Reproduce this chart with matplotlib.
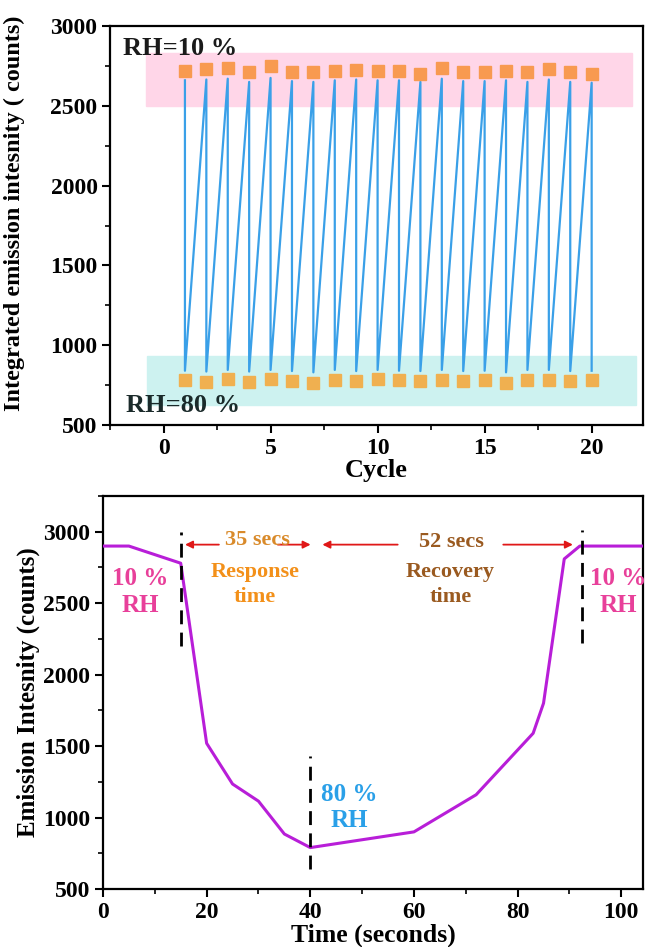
import numpy as np
import matplotlib
matplotlib.use("Agg")
import matplotlib.pyplot as plt
from matplotlib.ticker import MultipleLocator

plt.rcParams['font.family'] = ['Liberation Serif', 'DejaVu Serif']
plt.rcParams['font.weight'] = 'bold'

# --- datos ciclo (panel superior) ---
ciclos = np.arange(1, 21)
em_rh10 = [2720, 2730, 2740, 2710, 2750, 2715, 2710, 2720, 2725, 2720,
           2720, 2700, 2735, 2715, 2715, 2720, 2710, 2730, 2710, 2700]
em_rh80 = [780, 770, 790, 770, 790, 775, 765, 785, 775, 790,
           780, 775, 785, 775, 780, 765, 785, 785, 775, 780]
linea_alta = [2660, 2665, 2670, 2650, 2675, 2655, 2650, 2660, 2665, 2660,
              2660, 2650, 2670, 2655, 2655, 2660, 2650, 2665, 2650, 2645]
linea_baja = [840, 835, 845, 835, 845, 838, 830, 845, 838, 845,
              840, 838, 845, 838, 840, 830, 845, 845, 838, 840]

# --- datos respuesta temporal (panel inferior) ---
tiempo = [0, 5, 15, 20, 25, 30, 35, 40, 60, 72, 83, 85, 89, 92, 105]
intensidad = [2900, 2900, 2780, 1520, 1235, 1115, 885, 790, 900, 1160,
              1590, 1800, 2810, 2900, 2900]

fig = plt.figure(figsize=(6.46, 9.47), dpi=100)
ax1 = fig.add_axes([0.1703, 0.5512, 0.8251, 0.4213])
ax2 = fig.add_axes([0.1594, 0.0612, 0.8360, 0.4150])

for ax in (ax1, ax2):
    for s in ax.spines.values():
        s.set_linewidth(1.6)
    ax.tick_params(which='major', direction='out', length=6, width=1.5,
                   labelsize=17, pad=3)
    ax.tick_params(which='minor', direction='out', length=3.5, width=1.2)

# panel superior
ax1.axhspan(2500, 2830, xmin=(-0.84 + 2.5) / 24.9, xmax=(21.9 + 2.5) / 24.9,
            color='#ffd6e8', zorder=0)
ax1.axhspan(625, 932, xmin=(-0.75 + 2.5) / 24.9, xmax=(22.05 + 2.5) / 24.9,
            color='#cdf2f0', zorder=0)

zx = np.repeat(ciclos, 2)
zy = np.column_stack([linea_alta, linea_baja]).ravel()
ax1.plot(zx, zy, color='#3aa0e8', lw=1.6, zorder=2)
ax1.plot(ciclos, em_rh10, 's', color='#f89a50', ms=8.5, zorder=3)
ax1.plot(ciclos, em_rh80, 's', color='#f0b050', ms=8.5, zorder=3)

ax1.set_xlim(-2.5, 22.4)
ax1.set_ylim(500, 3000)
ax1.xaxis.set_major_locator(MultipleLocator(5))
ax1.xaxis.set_minor_locator(MultipleLocator(2.5))
ax1.yaxis.set_major_locator(MultipleLocator(500))
ax1.yaxis.set_minor_locator(MultipleLocator(250))
ax1.text(-1.9, 2862, 'RH=10 %', fontsize=19, fontweight='bold', va='center',
         color='#1a1a1a')
ax1.text(-1.77, 625, 'RH=80 %', fontsize=19, fontweight='bold', va='center',
         color='#1a2a2a')
ax1.set_xlabel('Cycle', fontsize=19, fontweight='bold', labelpad=0)
ax1.set_ylabel('Integrated emission intesnity ( counts)', fontsize=17.5,
               fontweight='bold', labelpad=2)
ax1.yaxis.set_label_coords(-0.16, 0.53)

# panel inferior
ax2.plot(tiempo, intensidad, color='#b81ed8', lw=2.2, zorder=3)
ax2.set_xlim(0, 104.2)
ax2.set_ylim(500, 3250)
ax2.xaxis.set_major_locator(MultipleLocator(20))
ax2.xaxis.set_minor_locator(MultipleLocator(10))
ax2.yaxis.set_major_locator(MultipleLocator(500))
ax2.yaxis.set_minor_locator(MultipleLocator(250))

for xv, y0, y1 in [(15, 2200, 3000), (40, 640, 1430), (92.4, 2220, 3010)]:
    ax2.plot([xv, xv], [y0, y1], color='black', lw=2, ls=(0, (5, 3)), zorder=4)

flecha = dict(arrowstyle='-|>', color='#e01818', lw=1.3, mutation_scale=11)
y_fl = 2910
for x0, x1 in [(22.9, 15.3), (33.2, 40.6), (57.4, 41.8), (76.7, 91.2)]:
    ax2.annotate('', xy=(x1, y_fl), xytext=(x0, y_fl), arrowprops=flecha)

ax2.text(29.8, 2945, '35 secs', color='#d98a2a', fontsize=16,
         fontweight='bold', ha='center', va='center')
ax2.text(29.3, 2630, 'Response\ntime', color='#f39019', fontsize=16,
         fontweight='bold', ha='center', va='center', linespacing=1.35)
ax2.text(67.2, 2930, '52 secs', color='#9a5a20', fontsize=16,
         fontweight='bold', ha='center', va='center')
ax2.text(67.0, 2630, 'Recovery\ntime', color='#9a5a20', fontsize=16,
         fontweight='bold', ha='center', va='center', linespacing=1.35)
ax2.text(7.2, 2580, '10 %\nRH', color='#e8409a', fontsize=18,
         fontweight='bold', ha='center', va='center', linespacing=1.2)
ax2.text(99.4, 2580, '10 %\nRH', color='#e8409a', fontsize=18,
         fontweight='bold', ha='center', va='center', linespacing=1.2)
ax2.text(47.6, 1070, '80 %\nRH', color='#2aa0e8', fontsize=18,
         fontweight='bold', ha='center', va='center', linespacing=1.2)

ax2.set_xlabel('Time (seconds)', fontsize=18.5, fontweight='bold', labelpad=1)
ax2.set_ylabel('Emission Intesnity (counts)', fontsize=18, fontweight='bold',
               labelpad=2)

fig.savefig('out.png', dpi=100)
